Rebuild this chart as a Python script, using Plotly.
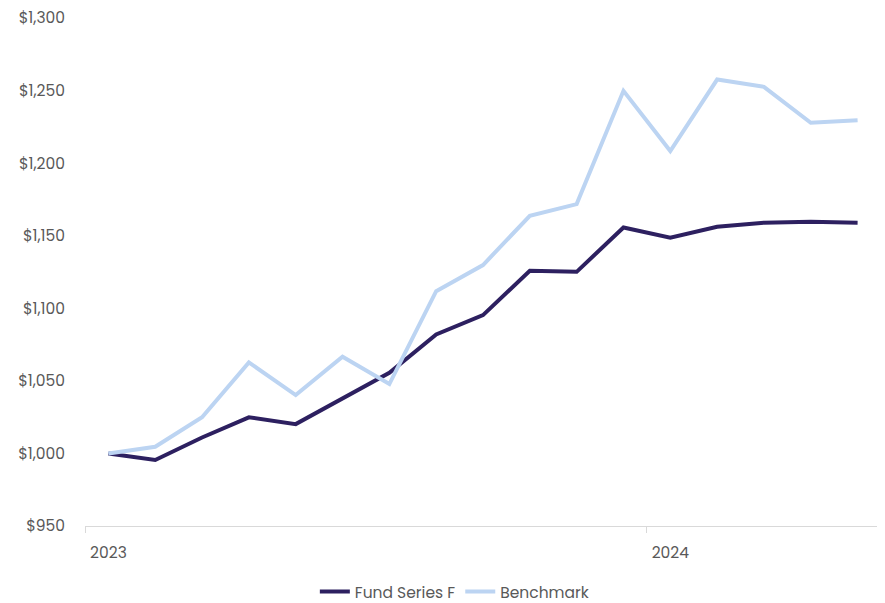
import plotly.graph_objects as go

months = list(range(17))  # Jan 2023 .. May 2024 (category positions)
year_tick_pos = [0, 12]
year_tick_text = ["2023", "2024"]
boundary_ticks = [-0.5, 11.5, 16.5]

fund = [1000, 995.5, 1011, 1024.9, 1020.2, 1037.9, 1055.6, 1082, 1095.3,
        1125.8, 1125.1, 1155.7, 1148.6, 1156.2, 1159, 1159.6, 1159]
bench = [1000, 1004.6, 1024.9, 1062.7, 1040.2, 1066.6, 1047.8, 1111.8, 1129.8,
         1163.7, 1171.8, 1249.8, 1208.3, 1257.6, 1252.6, 1227.8, 1229.6]

y_ticks = [950, 1000, 1050, 1100, 1150, 1200, 1250, 1300]
y_text = ["$950", "$1,000", "$1,050", "$1,100", "$1,150", "$1,200", "$1,250", "$1,300"]

font_family = "Poppins, Inter, 'Noto Sans', sans-serif"
grey = "#595959"

fig = go.Figure()
fig.add_trace(go.Scatter(x=months, y=fund, mode="lines", name="Fund Series F",
                         line=dict(color="#2d2060", width=4)))
fig.add_trace(go.Scatter(x=months, y=bench, mode="lines", name="Benchmark",
                         line=dict(color="#bcd4f2", width=4)))

# page body has an 8px margin, so the figure is sized/offset to fill the window
fig.update_layout(
    width=877, height=595,
    margin=dict(l=77, r=4, t=10, b=77, autoexpand=False),
    plot_bgcolor="white", paper_bgcolor="white",
    font=dict(family=font_family, size=15.5, color=grey),
    showlegend=True,
    legend=dict(orientation="h", x=0.464, xanchor="center", y=-0.13, yanchor="middle",
                font=dict(size=15.5, color=grey), tracegroupgap=0),
    xaxis=dict(range=[-0.5, 16.5], tickvals=year_tick_pos, ticktext=year_tick_text,
               ticks="", showgrid=False, zeroline=False, showline=True, automargin=False,
               linecolor="#d9d9d9", linewidth=1, ticklabelstandoff=12,
               minor=dict(tickvals=boundary_ticks, ticks="outside", ticklen=6,
                          tickcolor="#d9d9d9", tickwidth=1, showgrid=False),
               tickfont=dict(size=15.5, color=grey)),
    yaxis=dict(range=[950, 1300], tickvals=y_ticks, ticktext=y_text, automargin=False,
               showgrid=False, zeroline=False, showline=False, ticks="",
               ticklabeloverflow="allow",
               ticklabelstandoff=19, tickfont=dict(size=15.5, color=grey)),
)

fig.write_html("out.html")
